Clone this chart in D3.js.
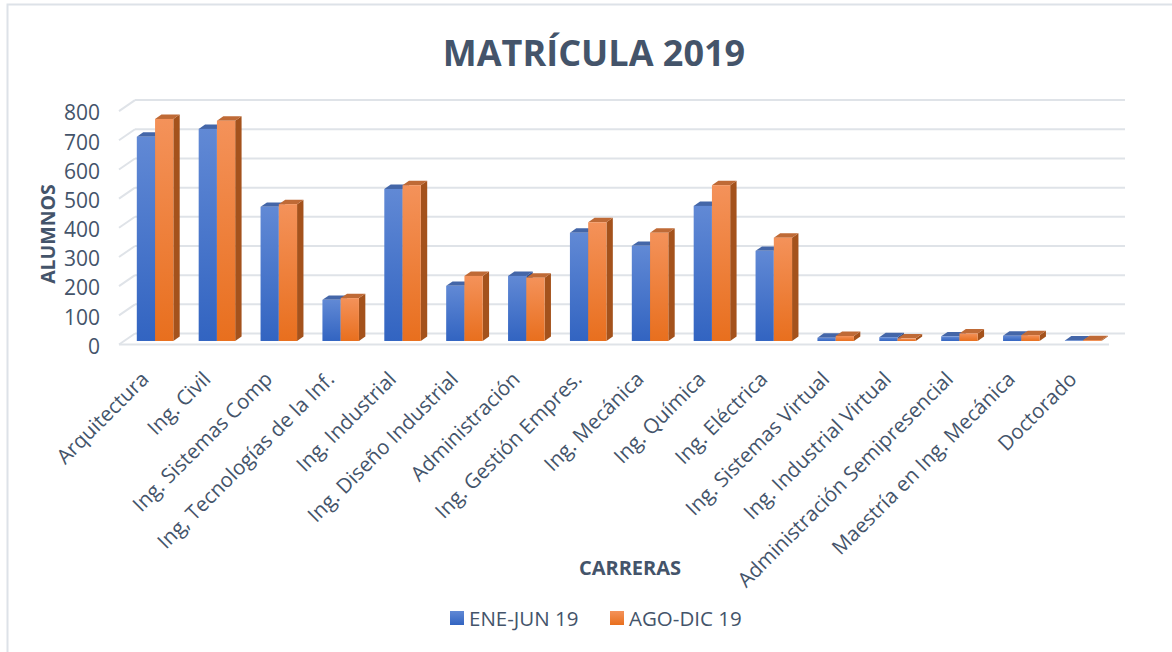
<!DOCTYPE html>
<html>
<head>
<meta charset="utf-8">
<script src="https://cdn.jsdelivr.net/npm/d3@7"></script>
<style>
  html, body { margin: 0; padding: 0; background: #fff; }
  svg { display: block; }
</style>
</head>
<body>
<svg id="chart" width="1172" height="652"></svg>
<script>
// ---- data ----
const categories = [
  "Arquitectura", "Ing. Civil", "Ing. Sistemas Comp", "Ing, Tecnologías de la Inf.",
  "Ing. Industrial", "Ing. Diseño Industrial", "Administración", "Ing. Gestión Empres.",
  "Ing. Mecánica", "Ing. Química", "Ing. Eléctrica", "Ing. Sistemas Virtual",
  "Ing. Industrial Virtual", "Administración Semipresencial", "Maestría en Ing. Mecánica", "Doctorado"
];
const seriesNames = ["ENE-JUN 19", "AGO-DIC 19"];
const eneJun = [700, 727, 460, 141, 521, 189, 223, 371, 326, 463, 309, 11, 13, 16, 18, 2];
const agoDic = [761, 755, 469, 147, 534, 223, 217, 407, 371, 534, 354, 17, 9, 26, 20, 3];
const yTicks = [0, 100, 200, 300, 400, 500, 600, 700, 800];
const title = "MATRÍCULA 2019";
const yTitle = "ALUMNOS";
const xTitle = "CARRERAS";

// ---- layout ----
const svg = d3.select("#chart");
const textColor = "#44546a";
const font = "'Open Sans', 'Noto Sans', sans-serif";

const front = { x0: 119, x1: 1109, y0: 344.5 };
const depth = { dx: 16, dy: -11 };
const barT = 0.32;
const barDepth = 0.4;

const y = d3.scaleLinear().domain([0, 800]).range([front.y0, front.y0 - 233.4]);
const x0 = d3.scaleBand().domain(categories).range([front.x0, front.x1])
  .paddingInner(0.41).paddingOuter(0.205);
const x1 = d3.scaleBand().domain(seriesNames).range([0, x0.bandwidth()]);

// border
svg.append("rect").attr("x", 7.5).attr("y", 4.5).attr("width", 1180).attr("height", 700)
  .attr("fill", "none").attr("stroke", "#dde2e8").attr("stroke-width", 2);

// gradients
const defs = svg.append("defs");
const pal = [
  { id: "gBlue", top: "#6189d5", bot: "#3264c1", side: "#2c4f92", cap: "#4466a8" },
  { id: "gOrange", top: "#f4925a", bot: "#e86f1e", side: "#a4521c", cap: "#bf6a36" }
];
pal.forEach(p => {
  const g = defs.append("linearGradient").attr("id", p.id)
    .attr("x1", 0).attr("y1", 0).attr("x2", 0).attr("y2", 1);
  g.append("stop").attr("offset", "0%").attr("stop-color", p.top);
  g.append("stop").attr("offset", "100%").attr("stop-color", p.bot);
});

// gridlines (back wall) + left side wall diagonals
const grid = svg.append("g");
yTicks.forEach(t => {
  const yf = y(t), yb = y(t) + depth.dy;
  grid.append("line")
    .attr("x1", front.x0 + depth.dx).attr("x2", front.x1 + depth.dx)
    .attr("y1", yb).attr("y2", yb)
    .attr("stroke", "#dfe3e8").attr("stroke-width", 2);
  grid.append("line")
    .attr("x1", front.x0).attr("y1", yf)
    .attr("x2", front.x0 + depth.dx).attr("y2", yb)
    .attr("stroke", "#dfe3e8").attr("stroke-width", 2);
});
grid.append("line")
  .attr("x1", front.x0).attr("x2", front.x1)
  .attr("y1", y(0)).attr("y2", y(0))
  .attr("stroke", "#dfe3e8").attr("stroke-width", 2);

// bars (3D)
const bdx0 = depth.dx * barT, bdy0 = depth.dy * barT;
const bdx = depth.dx * barDepth, bdy = depth.dy * barDepth;
const bars = svg.append("g");
const rows = categories.map((c, i) => ({ c, vals: [eneJun[i], agoDic[i]] }));
rows.forEach(r => {
  r.vals.forEach((v, k) => {
    const p = pal[k];
    const xl = x0(r.c) + x1(seriesNames[k]) + bdx0;
    const w = x1.bandwidth();
    const yt = y(v) + bdy0, yb = y(0) + bdy0;
    bars.append("path")
      .attr("d", `M${xl + w},${yt} L${xl + w + bdx},${yt + bdy} L${xl + w + bdx},${yb + bdy} L${xl + w},${yb} Z`)
      .attr("fill", p.side);
    bars.append("path")
      .attr("d", `M${xl},${yt} L${xl + bdx},${yt + bdy} L${xl + w + bdx},${yt + bdy} L${xl + w},${yt} Z`)
      .attr("fill", p.cap);
    bars.append("rect")
      .attr("x", xl).attr("y", yt).attr("width", w).attr("height", Math.max(0, yb - yt))
      .attr("fill", `url(#${p.id})`);
  });
});

// y axis labels
const yAxis = d3.axisLeft(y).tickValues(yTicks).tickSize(0).tickPadding(0);
const gy = svg.append("g").attr("transform", "translate(100,2)").call(yAxis);
gy.select(".domain").remove();
gy.selectAll("text").attr("font-family", font).attr("font-size", 21)
  .attr("fill", textColor);

// x axis labels
const xAxis = d3.axisBottom(x0).tickSize(0).tickPadding(0);
const gx = svg.append("g").attr("transform", `translate(0,${y(0)})`).call(xAxis);
gx.select(".domain").remove();
gx.selectAll("text")
  .attr("font-family", font).attr("font-size", 20.5).attr("fill", textColor)
  .attr("text-anchor", "end")
  .attr("dy", null).attr("y", 0)
  .attr("transform", "translate(0,36) rotate(-45)");

// titles
svg.append("text").attr("x", 594).attr("y", 66).attr("text-anchor", "middle")
  .attr("font-family", font).attr("font-weight", 700).attr("font-size", 36)
  .attr("fill", textColor).text(title);

svg.append("text").attr("transform", "translate(55,234) rotate(-90)")
  .attr("text-anchor", "middle").attr("font-family", font).attr("font-weight", 700)
  .attr("font-size", 19.5).attr("fill", textColor).text(yTitle);

svg.append("text").attr("x", 630).attr("y", 575).attr("text-anchor", "middle")
  .attr("font-family", font).attr("font-weight", 700).attr("font-size", 20)
  .attr("fill", textColor).text(xTitle);

// legend
const legend = svg.append("g");
const legX = [450, 610];
seriesNames.forEach((s, k) => {
  legend.append("rect").attr("x", legX[k]).attr("y", 611).attr("width", 14).attr("height", 14)
    .attr("fill", `url(#${pal[k].id})`);
  legend.append("text").attr("x", legX[k] + 19).attr("y", 626)
    .attr("font-family", font).attr("font-size", 20.5).attr("fill", textColor).text(s);
});
</script>
</body>
</html>
